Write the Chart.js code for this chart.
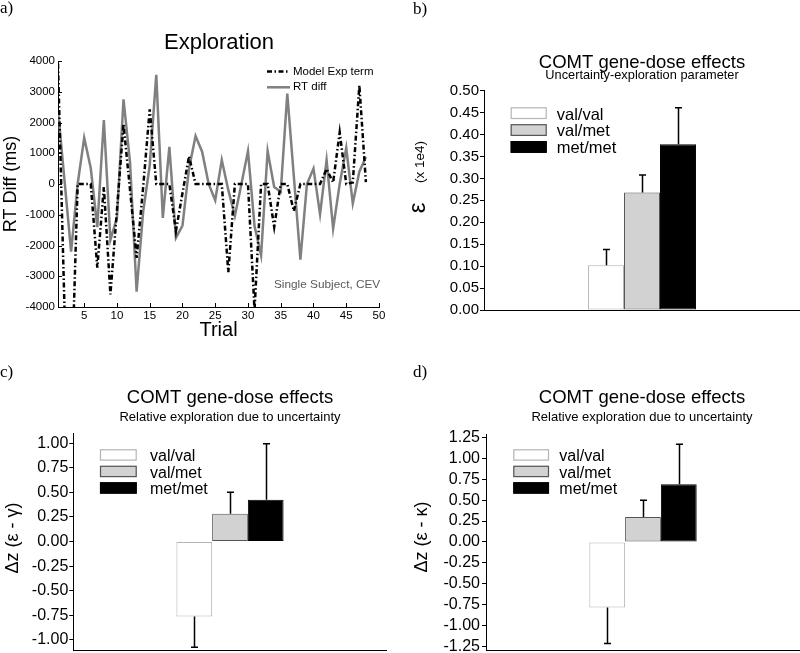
<!DOCTYPE html>
<html>
<head>
<meta charset="utf-8">
<script src="https://cdn.jsdelivr.net/npm/chart.js@4.4.0/dist/chart.umd.min.js"></script>
<style>
  body { margin: 0; background: #fff; width: 800px; height: 653px; position: relative; overflow: hidden; }
  canvas { position: absolute; }
</style>
</head>
<body>
<canvas id="pa" width="400" height="345" style="left:0;top:0"></canvas>
<canvas id="pb" width="400" height="330" style="left:400px;top:0"></canvas>
<canvas id="pc" width="400" height="323" style="left:0;top:330px"></canvas>
<canvas id="pd" width="400" height="323" style="left:400px;top:330px"></canvas>
<script>
// panel a data
const trials = [1, 2, 3, 4, 5, 6, 7, 8, 9, 10, 11, 12, 13, 14, 15, 16, 17, 18, 19, 20, 21, 22, 23, 24,
  25, 26, 27, 28, 29, 30, 31, 32, 33, 34, 35, 36, 37, 38, 39, 40, 41, 42, 43, 44, 45, 46, 47, 48];
const rtDiff = [2400, 100, -2200, 0, 1500, 520, -1400, 2080, -1820, -1100, 2750, 700, -3500, -900, 600, 3550,
  -1100, 1210, -1750, -1350, 500, 1560, 1050, 0, -530, 780, -200, -1040, 0, 1070, -1370, -2320,
  1070, -100, -250, 2940, 250, -2460, 0, 500, -980, 780, -1450, 0, 1170, -630, 400, 880];
const modelExp = [3900, -4100, -7000, 0, 0, 0, -2720, -100, -3590, -850, 1950, -200, -2400, -100, 2430, 0,
  0, 0, -1530, -300, 900, 0, 0, 0, 0, 0, -2870, 0, 0, 0, -4100, 0,
  0, -1400, 0, 0, -880, 0, 0, 0, 0, 490, 50, 1680, 0, 50, 3210, 60];
const trialTicks = [5, 10, 15, 20, 25, 30, 35, 40, 45, 50];

// panels b-d data
const genotypes = ['val/val', 'val/met', 'met/met'];
const epsMean = [0.102, 0.268, 0.378];
const epsSem = [0.036, 0.040, 0.083];
const gammaMean = [-0.763, 0.281, 0.424];
const gammaSem = [0.312, 0.219, 0.569];
const kappaMean = [-0.784, 0.299, 0.689];
const kappaSem = [0.430, 0.199, 0.478];
const epsTicks = [0, 0.05, 0.1, 0.15, 0.2, 0.25, 0.3, 0.35, 0.4, 0.45, 0.5];
const gammaTicks = [-1, -0.75, -0.5, -0.25, 0, 0.25, 0.5, 0.75, 1];
const kappaTicks = [-1.25, -1, -0.75, -0.5, -0.25, 0, 0.25, 0.5, 0.75, 1, 1.25];

const FONT = '"Liberation Sans", Arial, Helvetica, sans-serif';
const SERIF = '"Liberation Serif", "Times New Roman", serif';
const barFill = ['#ffffff', '#d2d2d2', '#000000'];
const barEdge = ['#b4b4b4', '#555555', '#000000'];
Chart.defaults.font.family = FONT;

// free text: titles, axis labels, panel letters
const texts = {
  id: 'texts',
  afterDraw(chart, args, opts) {
    const ctx = chart.ctx;
    opts.items.forEach(it => {
      ctx.save();
      ctx.font = it.size + 'px ' + (it.serif ? SERIF : FONT);
      ctx.fillStyle = it.color || '#000';
      ctx.textAlign = it.align || 'center';
      ctx.textBaseline = it.base || 'alphabetic';
      ctx.translate(it.x, it.y);
      if (it.rot) ctx.rotate(-Math.PI / 2);
      ctx.fillText(it.text, 0, 0);
      ctx.restore();
    });
  }
};

const innerTicks = {
  id: 'innerTicks',
  afterDraw(chart) {
    const { ctx, chartArea: a, scales: { x, y } } = chart;
    ctx.save();
    ctx.strokeStyle = '#000';
    ctx.lineWidth = 1;
    ctx.beginPath();
    x.ticks.forEach(t => {
      const px = Math.round(x.getPixelForValue(t.value)) + 0.5;
      ctx.moveTo(px, a.bottom); ctx.lineTo(px, a.bottom - 4);
    });
    y.ticks.forEach(t => {
      const py = Math.round(y.getPixelForValue(t.value)) + 0.5;
      ctx.moveTo(a.left, py); ctx.lineTo(a.left + 4, py);
    });
    ctx.stroke();
    ctx.restore();
  }
};

const lineLegend = {
  id: 'lineLegend',
  afterDraw(chart, args, o) {
    const ctx = chart.ctx;
    chart.data.datasets.forEach((ds, i) => {
      const y = o.y + i * o.gap;
      ctx.save();
      ctx.strokeStyle = ds.borderColor;
      ctx.lineWidth = ds.borderWidth;
      ctx.setLineDash(ds.borderDash || []);
      ctx.beginPath(); ctx.moveTo(o.x, y); ctx.lineTo(o.x + o.len, y); ctx.stroke();
      ctx.setLineDash([]);
      ctx.fillStyle = '#000';
      ctx.font = o.size + 'px ' + FONT;
      ctx.textBaseline = 'middle';
      ctx.fillText(ds.label, o.x + o.len + 3, y);
      ctx.restore();
    });
  }
};

const boxLegend = {
  id: 'boxLegend',
  afterDraw(chart, args, o) {
    const ctx = chart.ctx;
    chart.data.datasets.forEach((ds, i) => {
      const y = o.y + i * o.gap;
      ctx.save();
      ctx.fillStyle = ds.backgroundColor;
      ctx.fillRect(o.x, y, o.w, o.h);
      ctx.strokeStyle = ds.borderColor;
      ctx.lineWidth = 1.2;
      ctx.strokeRect(o.x + 0.5, y + 0.5, o.w - 1, o.h - 1);
      ctx.fillStyle = '#000';
      ctx.font = o.size + 'px ' + FONT;
      ctx.textBaseline = 'alphabetic';
      ctx.fillText(ds.label, o.tx, y + o.h + 0.5);
      ctx.restore();
    });
  }
};

// one-sided error bars, away from zero
const errorBars = {
  id: 'errorBars',
  afterDatasetsDraw(chart) {
    const ctx = chart.ctx, ys = chart.scales.y;
    ctx.save();
    ctx.strokeStyle = '#000';
    ctx.lineWidth = 1.5;
    chart.data.datasets.forEach((ds, i) => {
      const bar = chart.getDatasetMeta(i).data[0];
      const v = ds.data[0];
      const end = ys.getPixelForValue(v + Math.sign(v) * ds.sem);
      const x = Math.round(bar.x) + 0.5;
      ctx.beginPath();
      ctx.moveTo(x, bar.y); ctx.lineTo(x, end);
      ctx.moveTo(x - 3.5, end); ctx.lineTo(x + 3.5, end);
      ctx.stroke();
    });
    ctx.restore();
  }
};

new Chart(document.getElementById('pa'), {
  type: 'line',
  data: {
    datasets: [
      { label: 'Model Exp term', data: trials.map((t, i) => ({ x: t, y: modelExp[i] })),
        borderColor: '#000', borderWidth: 2.5, borderDash: [5, 2.5, 1.5, 2.5], pointRadius: 0, tension: 0 },
      { label: 'RT diff', data: trials.map((t, i) => ({ x: t, y: rtDiff[i] })),
        borderColor: '#808080', borderWidth: 2.5, pointRadius: 0, tension: 0 }
    ]
  },
  options: {
    responsive: false, animation: false, events: [],
    layout: { padding: { top: 61, right: 21, left: 0, bottom: 0 } },
    plugins: {
      legend: { display: false }, title: { display: false }, tooltip: { enabled: false },
      lineLegend: { x: 267, y: 71.5, gap: 15.8, len: 23, size: 11.5 },
      texts: { items: [
        { text: 'a)', x: 0, y: 13, size: 17, serif: true, align: 'left' },
        { text: 'Exploration', x: 219, y: 49.3, size: 22 },
        { text: 'Single Subject, CEV', x: 274, y: 287.5, size: 11.8, align: 'left', color: '#5a5a5a' }
      ] }
    },
    scales: {
      x: {
        type: 'linear', min: 1, max: 50,
        afterBuildTicks: s => { s.ticks = trialTicks.map(v => ({ value: v })); },
        afterFit: s => { s.height = 38; s.paddingLeft = 0; s.paddingRight = 0; },
        grid: { display: false, drawTicks: false },
        border: { display: true, color: '#000', width: 1 },
        ticks: { color: '#000', padding: 2, font: { size: 11.5 }, maxRotation: 0, autoSkip: false, callback: v => String(v) },
        title: { display: true, text: 'Trial', color: '#000', font: { size: 20 }, padding: { top: 0, bottom: 3 } }
      },
      y: {
        min: -4000, max: 4000,
        ticks: { stepSize: 1000, color: '#000', padding: 3, font: { size: 11.5 }, autoSkip: false, callback: v => String(v) },
        afterFit: s => { s.width = 58; s.paddingTop = 0; s.paddingBottom = 0; },
        grid: { display: false, drawTicks: false },
        border: { display: true, color: '#000', width: 1 },
        title: { display: true, text: 'RT Diff (ms)', color: '#000', font: { size: 18 }, padding: 0 }
      }
    }
  },
  plugins: [innerTicks, lineLegend, texts]
});

function barPanel(id, c) {
  return new Chart(document.getElementById(id), {
    type: 'bar',
    data: {
      labels: [''],
      datasets: genotypes.map((g, i) => ({
        label: g, data: [c.mean[i]], sem: c.sem[i],
        backgroundColor: barFill[i], borderColor: barEdge[i], borderWidth: 1, borderSkipped: false,
        categoryPercentage: 0.342, barPercentage: 1
      }))
    },
    options: {
      responsive: false, animation: false, events: [],
      layout: { padding: { top: c.top, right: c.right, left: 0, bottom: 0 } },
      plugins: {
        legend: { display: false }, title: { display: false }, tooltip: { enabled: false },
        boxLegend: c.legend,
        texts: { items: c.texts }
      },
      scales: {
        x: {
          grid: { display: false }, ticks: { display: false },
          border: { display: true, color: '#000', width: 1 },
          afterFit: s => { s.height = c.xh; s.paddingLeft = 0; s.paddingRight = 0; }
        },
        y: {
          min: c.min, max: c.max,
          afterBuildTicks: s => { s.ticks = c.ticks.map(v => ({ value: v })); },
          afterFit: s => { s.width = c.yw; s.paddingTop = 0; s.paddingBottom = 0; },
          grid: { drawOnChartArea: false, drawTicks: true, tickLength: 4, color: '#000', lineWidth: 1 },
          border: { display: true, color: '#000', width: 1 },
          ticks: { color: '#000', padding: c.pad, autoSkip: false, font: { size: c.fs }, callback: v => v.toFixed(2) }
        }
      }
    },
    plugins: [errorBars, boxLegend, texts]
  });
}

barPanel('pb', {
  mean: epsMean, sem: epsSem, ticks: epsTicks, min: 0, max: 0.5,
  top: 90.7, right: 0, xh: 20, yw: 84, fs: 15, pad: 1,
  legend: { x: 110.7, y: 107.3, gap: 16.9, w: 36, h: 11.7, tx: 156.7, size: 16.5 },
  texts: [
    { text: 'b)', x: 13, y: 14, size: 17, serif: true, align: 'left' },
    { text: 'COMT gene-dose effects', x: 242, y: 67.5, size: 18.5 },
    { text: 'Uncertainty-exploration parameter', x: 242, y: 78.5, size: 12.8 },
    { text: 'ε', x: 18, y: 208, size: 24, rot: true, base: 'middle' },
    { text: '(x 1e4)', x: 20, y: 162, size: 13.5, rot: true, base: 'middle' }
  ]
});

barPanel('pc', {
  mean: gammaMean, sem: gammaSem, ticks: gammaTicks, min: -1.11, max: 1.1,
  top: 103.3, right: 13.3, xh: 2.3, yw: 73.3, fs: 16, pad: 1,
  legend: { x: 100, y: 119.3, gap: 16.5, w: 36.7, h: 11.3, tx: 150, size: 16 },
  texts: [
    { text: 'c)', x: 0, y: 47, size: 17, serif: true, align: 'left' },
    { text: 'COMT gene-dose effects', x: 230, y: 73.3, size: 18.5 },
    { text: 'Relative exploration due to uncertainty', x: 230, y: 90.7, size: 13 },
    { text: 'Δz (ε - γ)', x: 13, y: 208, size: 18, rot: true, base: 'middle' }
  ]
});

barPanel('pd', {
  mean: kappaMean, sem: kappaSem, ticks: kappaTicks, min: -1.3, max: 1.29,
  top: 104, right: 0, xh: 2.3, yw: 86, fs: 16, pad: 2,
  legend: { x: 113.3, y: 119.3, gap: 16.5, w: 35.7, h: 11.3, tx: 159.3, size: 16 },
  texts: [
    { text: 'd)', x: 13, y: 47, size: 17, serif: true, align: 'left' },
    { text: 'COMT gene-dose effects', x: 242, y: 73.3, size: 18.5 },
    { text: 'Relative exploration due to uncertainty', x: 242, y: 90.7, size: 13 },
    { text: 'Δz (ε - κ)', x: 21.7, y: 207, size: 18, rot: true, base: 'middle' }
  ]
});
</script>
</body>
</html>
